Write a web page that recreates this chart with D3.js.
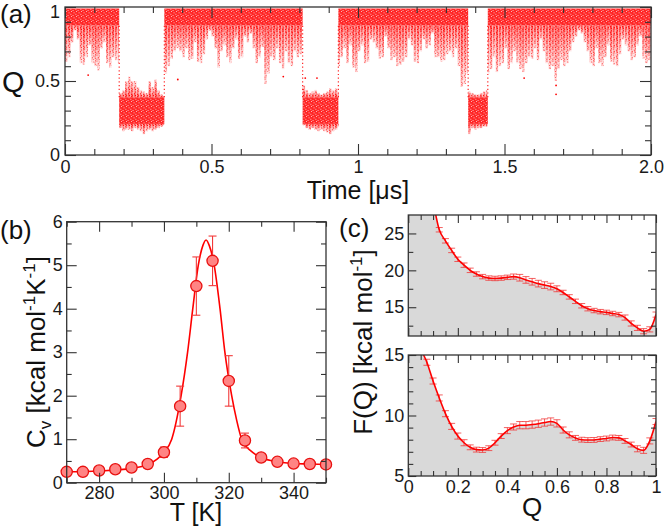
<!DOCTYPE html>
<html><head><meta charset="utf-8">
<script src="https://cdn.jsdelivr.net/npm/d3@7"></script>
<style>body{margin:0;background:#fff} svg{display:block}</style>
</head><body><svg id="c" width="666" height="529"></svg>
<script>
// ---------------- DATA ----------------
// (a) Q(t) trajectory, summarised in 0.01 µs bins
const binWidth = 0.01; // µs
const unfoldedStart = [0.185, 0.811, 1.376];
const unfoldedEnd   = [0.339, 0.933, 1.443];
const foldedCore = [0.875, 0.99];   // dense band of the folded state
const unfoldedCore = [0.21, 0.39];  // dense band of the unfolded state
// lowest Q reached in each bin while folded (null = bin inside an unfolded stretch)
const foldedLow = [
 0.63,0.66,0.76,0.84,0.78,0.62,0.61,0.66,0.74,0.62,
 0.60,0.57,0.72,0.76,0.62,0.59,0.66,0.64,0.62,
 null,null,null,null,null,null,null,null,null,null,null,null,null,null,null,
 0.55,0.60,0.65,0.70,0.72,0.70,
 0.66,0.72,0.64,0.65,0.76,0.63,0.62,0.68,0.78,0.84,
 0.80,0.72,0.59,0.70,0.74,0.66,0.62,0.72,0.78,0.65,
 0.66,0.80,0.76,0.82,0.72,0.62,0.66,0.73,0.48,0.55,
 0.66,0.64,0.72,0.62,0.58,0.70,0.62,0.60,0.70,0.66,0.68,
 null,null,null,null,null,null,null,null,null,null,null,null,
 0.60,0.66,0.72,0.62,0.74,0.59,0.56,
 0.70,0.74,0.62,0.63,0.78,0.76,0.72,0.65,0.66,0.80,
 0.72,0.64,0.66,0.60,0.61,0.63,0.66,0.78,0.74,0.63,
 0.62,0.70,0.78,0.72,0.74,0.82,0.66,0.66,0.63,0.64,
 0.68,0.70,0.66,0.72,0.60,0.46,0.48,0.55,
 null,null,null,null,null,null,
 0.55,0.58,0.66,0.56,0.60,0.62,
 0.72,0.58,0.62,0.70,0.62,0.58,0.56,0.62,0.66,0.65,
 0.72,0.64,0.78,0.70,0.62,0.58,0.60,0.50,0.58,0.64,
 0.60,0.62,0.70,0.76,0.80,0.84,0.82,0.76,0.70,0.62,
 0.60,0.72,0.62,0.60,0.66,0.74,0.63,0.61,0.60,0.68,
 0.78,0.74,0.70,0.64,0.66,0.74,0.80,0.65,0.62,0.64
];
// highest / lowest Q in each 0.01 µs bin of the unfolded stretches
const unfoldedHigh = [
 [0.42,0.44,0.50,0.53,0.50,0.50,0.46,0.44,0.43,0.42,0.50,0.46,0.51,0.44,0.41,0.40],
 [0.47,0.44,0.42,0.43,0.44,0.42,0.41,0.42,0.43,0.45,0.44,0.45,0.42],
 [0.43,0.42,0.41,0.41,0.42,0.43,0.44]
];
const unfoldedLow = [
 [0.18,0.16,0.17,0.17,0.16,0.18,0.17,0.16,0.14,0.16,0.17,0.16,0.17,0.18,0.19,0.20],
 [0.20,0.18,0.17,0.18,0.17,0.16,0.17,0.16,0.15,0.14,0.16,0.17,0.19],
 [0.14,0.18,0.17,0.18,0.18,0.19,0.19]
];
const strayT = [0.079, 0.385, 0.745, 0.82, 0.86, 1.567, 1.676, 1.676];
const strayQ = [0.54, 0.51, 0.53, 0.52, 0.52, 0.52, 0.41, 0.47];
const aXTicks = [0, 0.5, 1, 1.5, 2];
const aXLabels = ["0", "0.5", "1", "1.5", "2.0"];
const aYTicks = [0, 0.5, 1];
const aYLabels = ["0", "0.5", "1"];

// (b) heat capacity
const cvT   = [270,275,280,285,290,295,300,305,310,315,320,325,330,335,340,345,350];
const cvV   = [0.25,0.25,0.28,0.31,0.35,0.43,0.70,1.76,4.52,5.10,2.34,0.97,0.58,0.48,0.44,0.43,0.42];
const cvErr = [0.03,0.03,0.03,0.03,0.04,0.05,0.12,0.46,0.67,0.57,0.58,0.17,0.05,0.04,0.03,0.03,0.03];
const cvCurveT = [270,280,290,295,298,300,302.4,305.3,307.3,308.9,310.6,312,313,314,315.5,317.3,318.8,320.9,322.4,324,327,330,335,340,345,350];
const cvCurveV = [0.25,0.27,0.33,0.42,0.55,0.70,1.0,2.0,3.0,4.0,5.0,5.45,5.58,5.45,5.0,4.0,3.0,2.0,1.45,1.0,0.72,0.58,0.48,0.44,0.43,0.42];
const bXTicks = [280, 300, 320, 340];
const bYTicks = [0, 1, 2, 3, 4, 5, 6];

// (c) free energy profiles
const fQ = [0,0.025,0.05,0.075,0.1,0.125,0.15,0.175,0.2,0.225,0.25,0.275,0.3,0.325,0.35,0.375,0.4,0.425,0.45,0.475,0.5,
            0.525,0.55,0.575,0.6,0.625,0.65,0.675,0.7,0.725,0.75,0.775,0.8,0.825,0.85,0.875,0.9,0.925,0.95,0.975,1.0];
const fTop = [36,34,32,30.5,29.0,25.5,24.0,22.7,21.5,20.7,20.0,19.5,19.15,18.95,18.9,18.95,19.05,19.15,19.0,18.7,18.45,
              18.2,18.0,17.8,17.5,17.0,16.4,15.8,15.2,14.8,14.55,14.4,14.3,14.15,14.0,13.6,12.8,12.2,11.75,12.0,14.0];
const fTopErr = [0.3,0.3,0.3,0.3,0.3,0.3,0.3,0.3,0.3,0.3,0.3,0.3,0.3,0.3,0.3,0.3,0.3,0.35,0.45,0.45,0.45,
                 0.45,0.45,0.45,0.4,0.3,0.3,0.3,0.3,0.3,0.3,0.3,0.3,0.3,0.3,0.35,0.35,0.35,0.35,0.35,0.35];
const fBot = [20,17.5,15.6,14.4,12.85,11.45,10.15,9.1,8.3,7.75,7.37,7.18,7.15,7.3,7.75,8.3,8.75,9.05,9.2,9.2,9.25,
              9.32,9.42,9.5,9.35,8.8,8.4,8.15,8.0,7.97,7.98,8.05,8.1,8.18,8.15,7.9,7.6,7.25,7.12,7.9,9.5];
const fBotErr = [0.25,0.25,0.25,0.25,0.25,0.25,0.25,0.25,0.25,0.25,0.2,0.2,0.2,0.2,0.2,0.2,0.25,0.25,0.3,0.3,0.3,
                 0.3,0.3,0.3,0.3,0.25,0.25,0.2,0.2,0.2,0.2,0.2,0.2,0.2,0.2,0.2,0.2,0.25,0.25,0.25,0.25];
const cXTicks = [0, 0.2, 0.4, 0.6, 0.8, 1];
const cXLabels = ["0", "0.2", "0.4", "0.6", "0.8", "1"];

// ---------------- DRAWING ----------------
const FONT = '"Liberation Sans", Arial, Helvetica, sans-serif';
const INK = "#333";
const RED = "#ff0000";
const svg = d3.select("#c");
const defs = svg.append("defs");

function grad(id, o1, o2, color) {
  const g = defs.append("linearGradient").attr("id", id).attr("x1", 0).attr("y1", 0).attr("x2", 0).attr("y2", 1);
  g.append("stop").attr("offset", 0).attr("stop-color", color).attr("stop-opacity", o1);
  g.append("stop").attr("offset", 1).attr("stop-color", color).attr("stop-opacity", o2);
}
grad("fadeDown", 0.6, 0.1, RED);
grad("fadeUp", 0.1, 0.6, RED);
grad("mDownG", 1, 0.5, "#fff");
grad("mUpG", 0.5, 1, "#fff");
["mDown", "mUp"].forEach(id => {
  defs.append("mask").attr("id", id).attr("maskContentUnits", "objectBoundingBox")
    .append("rect").attr("width", 1).attr("height", 1).attr("fill", `url(#${id}G)`);
});
// speckle texture used to make the sparse parts look like scattered points
const pat = defs.append("pattern").attr("id", "dots").attr("patternUnits", "userSpaceOnUse").attr("width", 6).attr("height", 6);
[[0.3, 0.5], [3.2, 1.4], [1.6, 3.1], [4.6, 3.8], [2.8, 5.0], [5.0, 0.2], [0.2, 4.6], [4.1, 2.2]].forEach(([a, b]) =>
  pat.append("rect").attr("x", a).attr("y", b).attr("width", 1.3).attr("height", 1.3).attr("fill", RED));
const patCore = defs.append("pattern").attr("id", "core").attr("patternUnits", "userSpaceOnUse").attr("width", 5).attr("height", 5);
patCore.append("rect").attr("width", 5).attr("height", 5).attr("fill", RED).attr("fill-opacity", 0.85);
[[1, 1], [3.6, 2.4], [0.4, 3.8], [2.6, 0.1]].forEach(([a, b]) =>
  patCore.append("rect").attr("x", a).attr("y", b).attr("width", 0.9).attr("height", 0.9).attr("fill", "#fff").attr("fill-opacity", 0.8));

function clip(id, x, y) {
  const [x0, x1] = x.range(), [y0, y1] = y.range();
  defs.append("clipPath").attr("id", id).append("rect")
    .attr("x", x0).attr("y", y1).attr("width", x1 - x0).attr("height", y0 - y1);
  return `url(#${id})`;
}

function range(a, b, s) { const r = []; for (let v = a; v <= b + 1e-9; v += s) r.push(+v.toFixed(6)); return r; }

function frame(x, y, o) {
  const [x0, x1] = x.range(), [y0, y1] = y.range();
  const g = svg.append("g");
  const blank = () => "";
  function add(axisFn, scale, vals, len, fmt, tx, ty) {
    const ax = axisFn(scale).tickValues(vals).tickSizeInner(-len).tickSizeOuter(0)
      .tickPadding(o.pad).tickFormat(fmt || blank);
    const a = g.append("g").attr("transform", `translate(${tx},${ty})`).call(ax);
    a.select(".domain").remove();
    a.selectAll("line").attr("stroke", INK).attr("stroke-width", 1.1);
    a.selectAll("text").attr("font-size", o.fs).attr("fill", "#1a1a1a").style("font-family", FONT);
    return a;
  }
  const xMinor = o.xMinor.filter(v => !o.xMajor.some(m => Math.abs(m - v) < 1e-9));
  const yMinor = o.yMinor.filter(v => !o.yMajor.some(m => Math.abs(m - v) < 1e-9));
  add(d3.axisBottom, x, xMinor, o.minor, null, 0, y0);
  add(d3.axisTop, x, xMinor, o.minor, null, 0, y1);
  add(d3.axisLeft, y, yMinor, o.minor, null, x0, 0);
  add(d3.axisRight, y, yMinor, o.minor, null, x1, 0);
  add(d3.axisBottom, x, o.xMajor, o.major, o.xFmt, 0, y0);
  add(d3.axisTop, x, o.xMajor, o.major, null, 0, y1);
  const left = add(d3.axisLeft, y, o.yMajor, o.major, o.yFmt, x0, 0);
  if (o.topLabelShift) {
    const top = d3.max(o.yMajor);
    left.selectAll(".tick").filter(d => d === top).select("text").attr("y", o.topLabelShift);
  }
  add(d3.axisRight, y, o.yMajor, o.major, null, x1, 0);
  g.append("rect").attr("x", x0).attr("y", y1).attr("width", x1 - x0).attr("height", y0 - y1)
    .attr("fill", "none").attr("stroke", INK).attr("stroke-width", 1.3);
}

function label(txt, x, y, size, opts = {}) {
  const t = svg.append("text").attr("x", x).attr("y", y).attr("font-size", size)
    .attr("fill", "#111").style("font-family", FONT).attr("text-anchor", opts.anchor || "start");
  if (opts.rotate) t.attr("transform", `rotate(-90,${x},${y})`);
  t.text(txt);
  return t;
}

// ===== (a) =====
{
  const x = d3.scaleLinear().domain([0, 2]).range([65, 651]);
  const y = d3.scaleLinear().domain([0, 1]).range([155, 7]);
  const g = svg.append("g").attr("clip-path", clip("clipA", x, y));
  const foldedIv = [];
  let s = 0;
  unfoldedStart.forEach((u, i) => { foldedIv.push([s, u]); s = unfoldedEnd[i]; });
  foldedIv.push([s, 2]);
  const clipT = (a, b) => {
    for (const [p, q] of foldedIv) { const lo = Math.max(a, p), hi = Math.min(b, q); if (hi > lo) return [lo, hi]; }
    return null;
  };
  function tail(xa, w, ya, yb, down) {
    if (yb - ya < 0.5) return;
    g.append("rect").attr("x", xa).attr("width", w).attr("y", ya).attr("height", yb - ya)
      .attr("fill", down ? "url(#fadeDown)" : "url(#fadeUp)");
    g.append("rect").attr("x", xa).attr("width", w).attr("y", ya).attr("height", yb - ya)
      .attr("fill", "url(#dots)").attr("mask", down ? "url(#mDown)" : "url(#mUp)");
  }
  foldedLow.forEach((low, i) => {
    if (low === null) return;
    const iv = clipT(i * binWidth, (i + 1) * binWidth);
    if (!iv || low >= foldedCore[0]) return;
    tail(x(iv[0]), Math.max(1, x(iv[1]) - x(iv[0]) - 0.4), y(foldedCore[0]), y(low), true);
  });
  foldedIv.forEach(([a, b]) => {
    g.append("rect").attr("x", x(a)).attr("width", x(b) - x(a))
      .attr("y", y(foldedCore[1])).attr("height", y(foldedCore[0]) - y(foldedCore[1]))
      .attr("fill", "url(#core)");
  });
  unfoldedStart.forEach((u, k) => {
    const e = unfoldedEnd[k];
    unfoldedHigh[k].forEach((hi, j) => {
      const a = u + j * binWidth, b = Math.min(e, a + binWidth);
      const w = Math.max(1, x(b) - x(a) - 0.4);
      tail(x(a), w, y(hi), y(unfoldedCore[1]), false);
      tail(x(a), w, y(unfoldedCore[0]), y(unfoldedLow[k][j]), true);
    });
    g.append("rect").attr("x", x(u)).attr("width", x(e) - x(u))
      .attr("y", y(unfoldedCore[1])).attr("height", y(unfoldedCore[0]) - y(unfoldedCore[1]))
      .attr("fill", "url(#core)");
    [u, e].forEach(t => {
      g.append("line").attr("x1", x(t)).attr("x2", x(t)).attr("y1", y(unfoldedCore[1])).attr("y2", y(foldedCore[0]))
        .attr("stroke", RED).attr("stroke-width", 1.2).attr("stroke-dasharray", "1.2,2.5").attr("stroke-opacity", 0.85);
    });
  });
  g.selectAll("circle.stray").data(strayT).join("circle").attr("class", "stray")
    .attr("cx", (d) => x(d)).attr("cy", (d, i) => y(strayQ[i])).attr("r", 0.9).attr("fill", RED);

  frame(x, y, {
    xMajor: aXTicks, xMinor: range(0, 2, 0.1), yMajor: aYTicks, yMinor: range(0, 1, 0.1),
    xFmt: (d, i) => aXLabels[i], yFmt: (d, i) => aYLabels[i], major: 11, minor: 6, pad: 5, fs: 18,
    topLabelShift: 5
  });
  label("(a)", 0, 23, 26);
  label("Q", 2, 92, 29);
  label("Time [\u03bcs]", 358, 199, 25, { anchor: "middle" });
}

// ===== (b) =====
{
  const x = d3.scaleLinear().domain([270, 350]).range([66.7, 326]);
  const y = d3.scaleLinear().domain([0, 6]).range([482.7, 221.7]);
  const g = svg.append("g");
  const line = d3.line().x((d, i) => x(cvCurveT[i])).y(d => y(d)).curve(d3.curveMonotoneX);
  g.append("path").attr("d", line(cvCurveV)).attr("fill", "none").attr("stroke", RED).attr("stroke-width", 1.6);
  const eb = g.append("g").attr("stroke", "#f23a3a").attr("stroke-width", 1.1);
  cvT.forEach((t, i) => {
    if (cvErr[i] < 0.06) return;
    const xt = x(t), ya = y(cvV[i] + cvErr[i]), yb = y(cvV[i] - cvErr[i]);
    eb.append("line").attr("x1", xt).attr("x2", xt).attr("y1", ya).attr("y2", yb);
    eb.append("line").attr("x1", xt - 4).attr("x2", xt + 4).attr("y1", ya).attr("y2", ya);
    eb.append("line").attr("x1", xt - 4).attr("x2", xt + 4).attr("y1", yb).attr("y2", yb);
  });
  g.selectAll("circle").data(cvV).join("circle")
    .attr("cx", (d, i) => x(cvT[i])).attr("cy", d => y(d)).attr("r", 5.6)
    .attr("fill", "#ff8484").attr("stroke", "#e8100f").attr("stroke-width", 1.3);
  frame(x, y, {
    xMajor: bXTicks, xMinor: range(270, 350, 10), yMajor: bYTicks, yMinor: range(0, 6, 0.5),
    xFmt: d => d, yFmt: d => d, major: 10, minor: 5, pad: 4, fs: 18
  });
  label("(b)", 0, 239, 26);
  label("T [K]", 196, 521, 25, { anchor: "middle" });
  const yl = label("", 45, 352, 26, { anchor: "middle", rotate: true });
  yl.append("tspan").text("C");
  yl.append("tspan").attr("font-size", 17).attr("dy", 6).text("v");
  yl.append("tspan").attr("dy", -6).text(" [kcal mol");
  yl.append("tspan").attr("font-size", 17).attr("dy", -10).text("-1");
  yl.append("tspan").attr("dy", 10).text("K");
  yl.append("tspan").attr("font-size", 17).attr("dy", -10).text("-1");
  yl.append("tspan").attr("dy", 10).text("]");
}

// ===== (c) =====
function freePanel(vals, errs, yDom, yTop, yBot, yMajor, yMinor, id, showX) {
  const x = d3.scaleLinear().domain([0, 1]).range([408.3, 656]);
  const y = d3.scaleLinear().domain(yDom).range([yBot, yTop]);
  const g = svg.append("g").attr("clip-path", clip(id, x, y));
  const area = d3.area().x((d, i) => x(fQ[i])).y0(yBot).y1(d => y(d)).curve(d3.curveMonotoneX);
  g.append("path").attr("d", area(vals)).attr("fill", "#d9d9d9");
  const eb = g.append("g").attr("stroke", "#f03030").attr("stroke-width", 0.9).attr("stroke-opacity", 0.85);
  fQ.forEach((q, i) => {
    const xq = x(q), ya = y(vals[i] + errs[i]), yb = y(vals[i] - errs[i]);
    eb.append("line").attr("x1", xq).attr("x2", xq).attr("y1", ya).attr("y2", yb);
    eb.append("line").attr("x1", xq - 3.5).attr("x2", xq + 3.5).attr("y1", ya).attr("y2", ya);
    eb.append("line").attr("x1", xq - 3.5).attr("x2", xq + 3.5).attr("y1", yb).attr("y2", yb);
  });
  const line = d3.line().x((d, i) => x(fQ[i])).y(d => y(d)).curve(d3.curveMonotoneX);
  g.append("path").attr("d", line(vals)).attr("fill", "none").attr("stroke", RED).attr("stroke-width", 1.6);
  frame(x, y, {
    xMajor: cXTicks, xMinor: range(0, 1, 0.05), yMajor: yMajor, yMinor: yMinor,
    xFmt: showX ? ((d, i) => cXLabels[i]) : null, yFmt: d => d, major: 8, minor: 5, pad: 4, fs: 18
  });
}
freePanel(fTop, fTopErr, [11.1, 27.5], 215, 336, [15, 20, 25], [12.5, 15, 17.5, 20, 22.5, 25], "clipC1", false);
freePanel(fBot, fBotErr, [5, 15], 355, 476, [5, 10, 15], range(5, 15, 1), "clipC2", true);
label("(c)", 339, 237, 26);
label("Q", 532, 516, 26, { anchor: "middle" });
{
  const yl = label("", 372, 342, 26, { anchor: "middle", rotate: true });
  yl.append("tspan").text("F(Q) [kcal mol");
  yl.append("tspan").attr("font-size", 17).attr("dy", -10).text("-1");
  yl.append("tspan").attr("dy", 10).text("]");
}
</script></body></html>
